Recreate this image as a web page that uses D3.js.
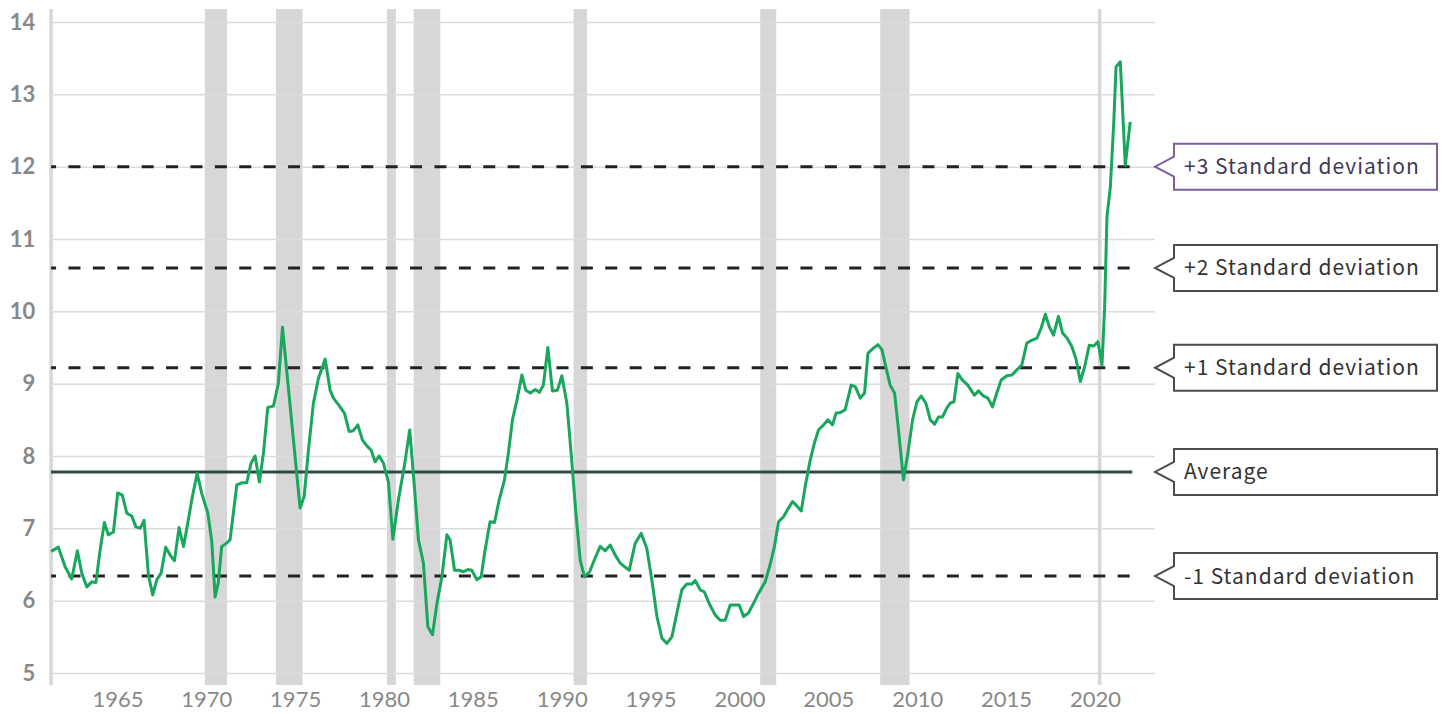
<!DOCTYPE html>
<html>
<head>
<meta charset="utf-8">
<script src="https://cdn.jsdelivr.net/npm/d3@7"></script>
<style>
  body { margin: 0; background: #fff; }
  svg { display: block; }
</style>
</head>
<body>
<div id="chart"></div>
<script>
// quarterly series, decimal year / value
var dates = [1961.10,1961.51,1961.89,1962.26,1962.58,1962.83,1963.11,1963.39,1963.62,1963.86,
  1964.10,1964.32,1964.61,1964.85,1965.11,1965.36,1965.64,1965.87,1966.11,1966.33,
  1966.58,1966.82,1967.05,1967.29,1967.55,1967.80,1968.04,1968.30,1968.55,1968.79,
  1969.05,1969.32,1969.58,1969.92,1970.14,1970.33,1970.51,1970.70,1970.90,1971.17,
  1971.55,1971.83,1972.11,1972.35,1972.58,1972.82,1973.05,1973.29,1973.61,1973.89,
  1974.12,1975.11,1975.34,1975.58,1975.86,1976.14,1976.52,1976.80,1976.99,1977.36,
  1977.61,1977.87,1978.11,1978.36,1978.62,1978.87,1979.11,1979.33,1979.56,1979.80,
  1980.08,1980.33,1980.64,1980.97,1981.28,1981.54,1981.77,1982.05,1982.30,1982.56,
  1982.81,1983.09,1983.37,1983.55,1983.80,1984.06,1984.30,1984.55,1984.77,1985.06,
  1985.30,1985.52,1985.80,1986.05,1986.31,1986.61,1986.83,1987.06,1987.31,1987.59,
  1987.81,1988.06,1988.34,1988.58,1988.80,1989.05,1989.31,1989.59,1989.84,1990.12,
  1990.36,1990.63,1990.87,1991.11,1991.40,1991.71,1992.00,1992.28,1992.56,1992.84,
  1993.12,1993.36,1993.63,1993.96,1994.30,1994.62,1994.90,1995.19,1995.47,1995.75,
  1996.03,1996.31,1996.59,1996.87,1997.16,1997.34,1997.62,1997.86,1998.13,1998.47,
  1998.75,1999.03,1999.31,1999.59,1999.82,2000.06,2000.34,2000.62,2000.90,2001.28,
  2001.56,2001.80,2002.03,2002.31,2002.59,2002.82,2003.06,2003.31,2003.53,2003.81,
  2004.05,2004.28,2004.56,2004.81,2005.07,2005.26,2005.50,2005.78,2006.12,2006.35,
  2006.63,2006.87,2007.06,2007.32,2007.62,2007.85,2008.07,2008.31,2008.56,2008.78,
  2009.06,2009.31,2009.57,2009.82,2010.06,2010.32,2010.57,2010.81,2011.03,2011.26,
  2011.51,2011.69,2011.90,2012.12,2012.38,2012.68,2013.05,2013.28,2013.56,2013.81,
  2014.07,2014.31,2014.56,2014.88,2015.16,2015.44,2015.72,2016.00,2016.28,2016.57,
  2016.81,2017.04,2017.26,2017.50,2017.78,2018.01,2018.26,2018.54,2018.78,2019.01,
  2019.25,2019.51,2019.76,2020.00,2020.23,2020.38,2020.51,2020.70,2020.89,2021.02,
  2021.26,2021.54,2021.82];

var values = [6.68,6.74,6.47,6.30,6.69,6.38,6.19,6.26,6.25,6.70,
  7.08,6.91,6.95,7.49,7.46,7.21,7.17,7.02,7.00,7.11,
  6.35,6.08,6.29,6.38,6.74,6.63,6.55,7.01,6.75,7.07,
  7.44,7.76,7.48,7.21,6.82,6.05,6.25,6.75,6.78,6.84,
  7.60,7.63,7.63,7.90,8.00,7.64,8.04,8.67,8.69,9.01,
  9.78,7.28,7.44,8.08,8.73,9.07,9.34,8.91,8.80,8.68,
  8.59,8.34,8.35,8.43,8.22,8.14,8.08,7.92,8.00,7.90,
  7.64,6.85,7.39,7.85,8.36,7.58,6.84,6.52,5.64,5.53,
  5.96,6.33,6.91,6.84,6.42,6.42,6.40,6.43,6.42,6.29,
  6.33,6.70,7.09,7.08,7.39,7.67,8.04,8.50,8.77,9.12,
  8.91,8.87,8.92,8.88,8.98,9.50,8.90,8.91,9.11,8.73,
  8.04,7.21,6.56,6.33,6.40,6.59,6.75,6.69,6.77,6.63,
  6.52,6.47,6.42,6.79,6.93,6.72,6.29,5.78,5.48,5.41,
  5.50,5.83,6.15,6.23,6.23,6.28,6.15,6.12,5.96,5.80,
  5.73,5.73,5.94,5.94,5.94,5.78,5.83,5.96,6.10,6.26,
  6.50,6.75,7.09,7.16,7.28,7.37,7.31,7.24,7.58,7.94,
  8.18,8.36,8.43,8.50,8.43,8.59,8.60,8.64,8.98,8.96,
  8.80,8.87,9.42,9.48,9.54,9.47,9.23,8.98,8.87,8.36,
  7.67,8.04,8.50,8.75,8.83,8.73,8.50,8.44,8.54,8.54,
  8.67,8.73,8.75,9.14,9.05,8.98,8.84,8.90,8.83,8.80,
  8.68,8.87,9.05,9.11,9.12,9.19,9.26,9.56,9.60,9.63,
  9.77,9.96,9.79,9.67,9.93,9.70,9.63,9.51,9.33,9.03,
  9.23,9.53,9.52,9.58,9.26,10.06,11.31,11.72,12.60,13.38,
  13.45,12.02,12.62];

// recession periods (shaded)
var recStart = [1960.25, 1969.75, 1973.75, 1980.0, 1981.5, 1990.5, 2001.0, 2007.75, 2020.0];
var recEnd   = [1961.2, 1971.0, 1975.25, 1980.5, 1983.0, 1991.25, 2001.9, 2009.4, 2020.2];

// reference lines
var refLabels = ["+3 Standard deviation", "+2 Standard deviation", "+1 Standard deviation", "Average", "-1 Standard deviation"];
var refValues = [12.0, 10.6, 9.22, 7.78, 6.34];

var yTicks = [5, 6, 7, 8, 9, 10, 11, 12, 13, 14];
var xTicks = [1965, 1970, 1975, 1980, 1985, 1990, 1995, 2000, 2005, 2010, 2015, 2020];

var W = 1444, H = 714;
var plotTop = 9, plotBottom = 685;

var svg = d3.select("#chart").append("svg")
  .attr("width", W)
  .attr("height", H);

var x = d3.scaleLinear().domain([1961.0, 2023.1]).range([49.3, 1153]);
var y = d3.scaleLinear().domain([5, 14]).range([673, 22]);

svg.append("defs").append("clipPath").attr("id", "plotclip")
  .append("rect")
  .attr("x", x.range()[0]).attr("y", 0)
  .attr("width", x.range()[1] - x.range()[0]).attr("height", H);

// recession bars
svg.append("g")
  .attr("clip-path", "url(#plotclip)")
  .selectAll("rect")
  .data(recStart)
  .enter().append("rect")
  .attr("x", function(d) { return x(d); })
  .attr("width", function(d, i) { return x(recEnd[i]) - x(d); })
  .attr("y", plotTop)
  .attr("height", plotBottom - plotTop)
  .attr("fill", "#d7d7d7");

// horizontal grid + y labels
var yAxis = svg.append("g")
  .attr("transform", "translate(" + x.range()[0] + ",0)")
  .call(d3.axisLeft(y).tickValues(yTicks).tickSize(-(x.range()[1] - x.range()[0]) - 2).tickPadding(14));
yAxis.select(".domain").remove();
yAxis.selectAll(".tick line")
  .attr("x1", 1)
  .attr("stroke", "#dcdcdc")
  .attr("stroke-width", 1.5);
yAxis.selectAll(".tick text")
  .attr("fill", "#888")
  .style("font-family", "Lato, 'Open Sans', sans-serif")
  .style("font-weight", "700")
  .style("font-size", "22px");

// x labels
var xAxis = svg.append("g")
  .attr("transform", "translate(-3," + plotBottom + ")")
  .call(d3.axisBottom(x).tickValues(xTicks).tickFormat(d3.format("d")).tickSize(0).tickPadding(6));
xAxis.select(".domain").remove();
xAxis.selectAll(".tick text")
  .attr("fill", "#888")
  .style("font-family", "Lato, 'Open Sans', sans-serif")
  .style("font-size", "22px");

var x0 = x(dates[0]), x1 = x(dates[dates.length - 1]) + 2;

// dashed standard deviation lines and average line
svg.append("g").selectAll("line")
  .data(refValues)
  .enter().append("line")
  .attr("x1", x0)
  .attr("x2", x1)
  .attr("y1", function(d) { return y(d); })
  .attr("y2", function(d) { return y(d); })
  .attr("stroke", function(d, i) { return refLabels[i] == "Average" ? "#2e4a44" : "#222"; })
  .attr("stroke-width", 3)
  .attr("stroke-dasharray", function(d, i) { return refLabels[i] == "Average" ? null : "12,12.4"; })
  .attr("stroke-dashoffset", 7);

// series
var line = d3.line()
  .x(function(d, i) { return x(d); })
  .y(function(d, i) { return y(values[i]); });

svg.append("path")
  .datum(dates)
  .attr("d", line)
  .attr("fill", "none")
  .attr("stroke", "#18a75c")
  .attr("stroke-width", 3)
  .attr("stroke-linejoin", "round");

// callout labels
var bx = 1174, bw = 263, bh = 46, tipX = 1155, notch = 10;
var callouts = svg.append("g").selectAll("g")
  .data(refValues)
  .enter().append("g")
  .attr("transform", function(d) { return "translate(0," + y(d) + ")"; });

callouts.append("path")
  .attr("d", "M" + bx + "," + (-bh / 2) + "H" + (bx + bw) + "V" + (bh / 2) + "H" + bx +
    "V" + notch + "L" + tipX + ",0L" + bx + "," + (-notch) + "Z")
  .attr("fill", "#fff")
  .attr("stroke", function(d, i) { return i == 0 ? "#7d5fa0" : "#4d4d4d"; })
  .attr("stroke-width", 2);

callouts.append("text")
  .attr("x", bx + 10)
  .attr("y", 0)
  .attr("dy", "0.36em")
  .attr("fill", function(d, i) { return i == 0 ? "#3f3a5a" : "#333"; })
  .style("font-family", "'Noto Sans CJK JP', 'Noto Sans', sans-serif")
  .style("font-size", "21px")
  .style("letter-spacing", "1px")
  .text(function(d, i) { return refLabels[i]; });
</script>
</body>
</html>
